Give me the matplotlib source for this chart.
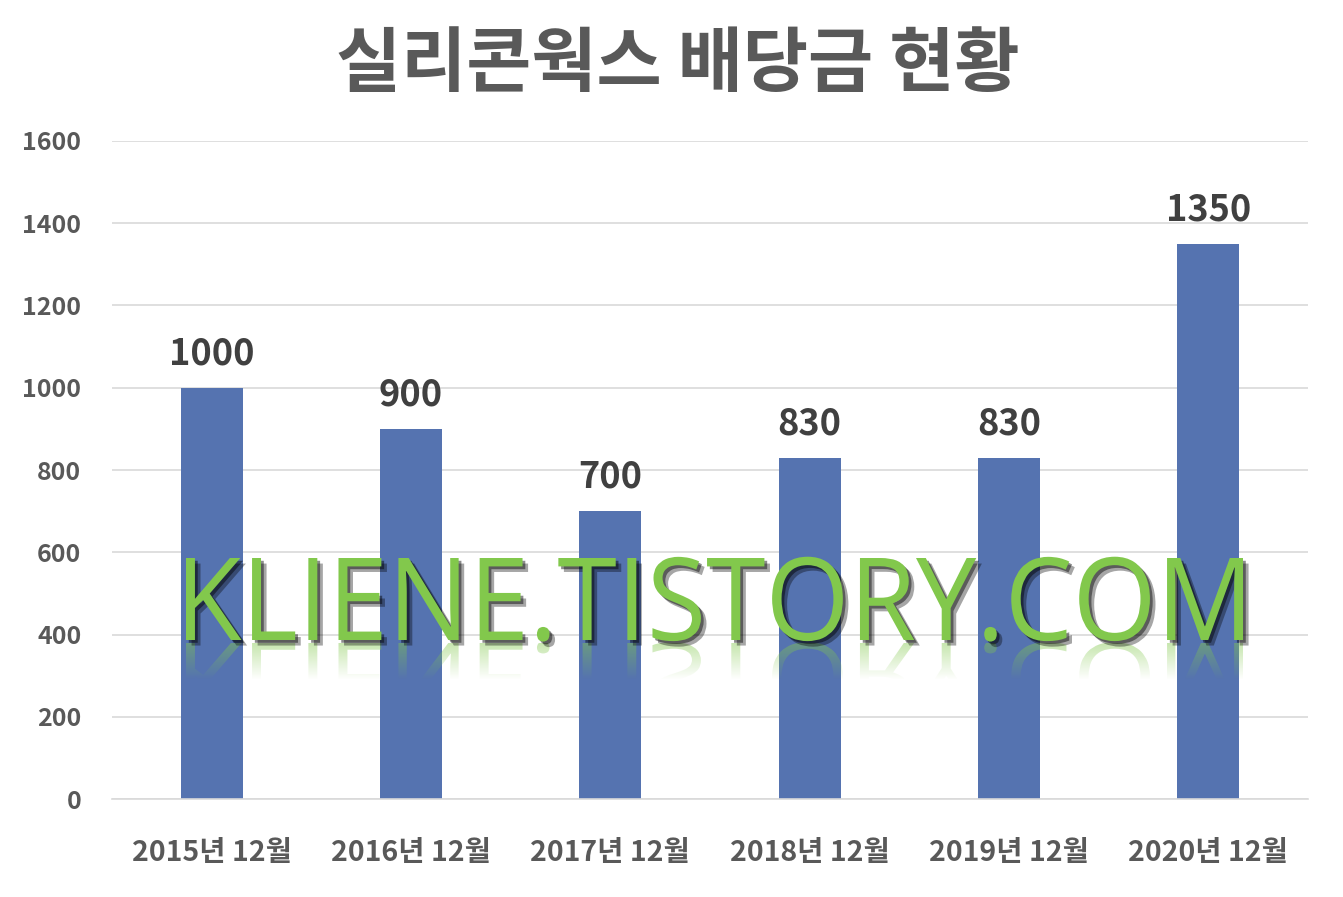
import numpy as np
import matplotlib
matplotlib.use('Agg')
import matplotlib.pyplot as plt
import matplotlib.patheffects as pe
from matplotlib.textpath import TextPath
from matplotlib.patches import PathPatch
from matplotlib.font_manager import FontProperties
from matplotlib.transforms import Affine2D

plt.rcParams['font.family'] = ['Noto Sans CJK KR', 'DejaVu Sans']

# data
periods = ['2015년 12월', '2016년 12월', '2017년 12월', '2018년 12월', '2019년 12월', '2020년 12월']
dividends = [1000, 900, 700, 830, 830, 1350]
title = '실리콘웍스 배당금 현황'
watermark = 'KLIENE.TISTORY.COM'

W, H = 1343, 897
fig = plt.figure(figsize=(W / 100, H / 100), dpi=100)
ax = fig.add_axes([112 / W, 1 - 799 / H, 1196 / W, 658 / H])

x = np.arange(len(periods))
ax.bar(x, dividends, width=0.31, color='#5573b0', zorder=2)
ax.set_xlim(-0.5, len(periods) - 0.5)
ax.set_ylim(0, 1600)
ax.set_yticks(np.arange(0, 1601, 200))
ax.set_xticks(x)
ax.set_xticklabels(periods)
ax.grid(axis='y', color='#d9d9d9', linewidth=1.2, zorder=0)
for s in ['top', 'right', 'left']:
    ax.spines[s].set_visible(False)
ax.spines['bottom'].set_color('#d9d9d9')
ax.spines['bottom'].set_linewidth(1.2)
ax.tick_params(axis='both', length=0, colors='#595959')
ax.tick_params(axis='y', pad=22)
ax.tick_params(axis='x', pad=29)
for lab in ax.get_yticklabels():
    lab.set_fontsize(18)
    lab.set_fontweight('bold')
for lab in ax.get_xticklabels():
    lab.set_fontsize(20.5)
    lab.set_fontweight('bold')

for xi, v in zip(x, dividends):
    ax.annotate(str(v), (xi, v), xytext=(0, 11), textcoords='offset points',
                ha='center', va='bottom', fontsize=26, fontweight='bold', color='#404040')

fig.text(0.505, 0.927, title, ha='center', va='center', fontsize=51,
         fontweight='bold', color='#595959')

# watermark overlay in pixel coordinates
ov = fig.add_axes([0, 0, 1, 1], zorder=5)
ov.set_xlim(0, W)
ov.set_ylim(0, H)
ov.axis('off')
ov.patch.set_alpha(0)

wm_font = FontProperties(family='Open Sans')
tp = TextPath((0, 0), watermark, size=1, prop=wm_font)
cap = TextPath((0, 0), 'K', size=1, prop=wm_font).get_extents().height
ext = tp.get_extents()
sx = (1243 - 186) / ext.width
sy = (640 - 558) / cap
base_y = H - 640
main_tr = Affine2D().translate(-ext.x0, 0).scale(sx, sy).translate(186, base_y)
main_path = main_tr.transform_path(tp)
ov.add_patch(PathPatch(main_path, facecolor='#82c84c', edgecolor='none',
                       path_effects=[pe.SimplePatchShadow(offset=(4, -4), shadow_rgbFace='black', alpha=0.35),
                                     pe.SimplePatchShadow(offset=(2, -2), shadow_rgbFace='black', alpha=0.45),
                                     pe.Normal()]))

refl_tr = Affine2D().translate(-ext.x0, 0).scale(sx, -sy * 0.8).translate(186, base_y - 3)
refl_path = refl_tr.transform_path(tp)
refl_patch = PathPatch(refl_path, facecolor='none', edgecolor='none')
ov.add_patch(refl_patch)
grad = np.zeros((40, 2, 4))
grad[..., 0] = 0x82 / 255
grad[..., 1] = 0xc8 / 255
grad[..., 2] = 0x4c / 255
grad[..., 3] = np.linspace(0.45, 0.0, 40)[:, None]
im = ov.imshow(grad, extent=(150, 1290, base_y - 40, base_y - 3), aspect='auto',
               interpolation='bilinear', origin='upper')
im.set_clip_path(refl_patch)
ov.set_xlim(0, W)
ov.set_ylim(0, H)

fig.savefig('out.png', dpi=100)
